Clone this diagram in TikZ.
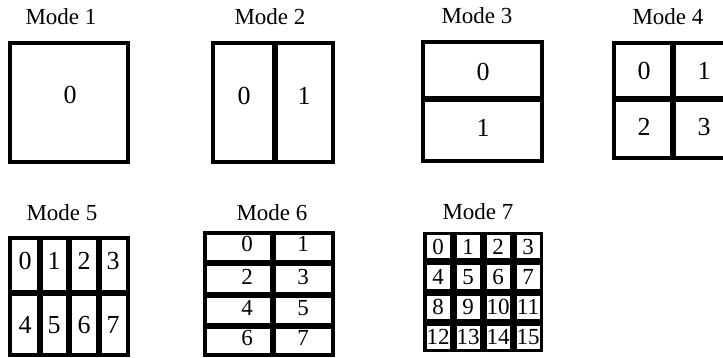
\documentclass[tikz,border=0pt]{standalone}
\usepackage{fontspec}
\setmainfont{Liberation Serif}
\usetikzlibrary{positioning}

\begin{document}
\begin{tikzpicture}[x=1pt, y=-1pt,
  modelabel/.style={font=\fontsize{23}{23}\selectfont, inner sep=0pt},
  digit/.style={font=\fontsize{26}{26}\selectfont, inner sep=0pt},
  smalldigit/.style={font=\fontsize{23}{23}\selectfont, inner sep=0pt},
  frame/.style={draw, line width=3.5pt},
  divider/.style={line width=5.5pt}
]
  \clip (0,0) rectangle (723,358);

  % top row
  \node[modelabel] (mode1) at (61,17) {Mode 1};
  \node[modelabel] (mode2) at (270,17) {Mode 2};
  \node[modelabel] (mode3) at (477,16) {Mode 3};
  \node[modelabel] (mode4) at (668,17) {Mode 4};

  \draw[frame] (10,43) rectangle (128,162);
  \node[digit] (c1-0) at (70,95) {0};

  \draw[frame] (213,43) rectangle (333,162);
  \draw[divider] (275,43) -- (275,162);
  \node[digit] (c2-0) at (244,96) {0};
  \node[digit] (c2-1) at (304,96) {1};

  \draw[frame] (423,42) rectangle (542,161);
  \draw[divider] (423,99) -- (542,99);
  \node[digit] (c3-0) at (483,72) {0};
  \node[digit] (c3-1) at (483,128) {1};

  \draw[frame] (614,43) rectangle (732,158);
  \draw[divider] (673,43) -- (673,158);
  \draw[divider] (614,99) -- (732,99);
  \node[digit] (c4-0) at (644,71) {0};
  \node[digit] (c4-1) at (704,71) {1};
  \node[digit] (c4-2) at (644,127) {2};
  \node[digit] (c4-3) at (704,127) {3};

  % bottom row
  \node[modelabel] (mode5) at (62,213) {Mode 5};
  \node[modelabel] (mode6) at (272,213) {Mode 6};
  \node[modelabel] (mode7) at (478,212) {Mode 7};

  \draw[frame] (10,238) rectangle (128,355);
  \foreach \x in {40,69,99}
    \draw[divider] (\x,238) -- (\x,355);
  \draw[divider] (10,293) -- (128,293);
  \foreach \d/\x in {0/25,1/54,2/84,3/113}
    \node[digit] (c5-\d) at (\x,261) {\d};
  \foreach \d/\x in {4/25,5/54,6/84,7/113}
    \node[digit] (c5-\d) at (\x,325) {\d};

  \draw[frame] (205,233) rectangle (333,355);
  \draw[divider] (273,233) -- (273,355);
  \foreach \y in {263,295,326}
    \draw[divider] (205,\y) -- (333,\y);
  \foreach \a/\b/\y in {0/1/244,2/3/277,4/5/308,6/7/338} {
    \node[smalldigit] (c6-\a) at (247,\y) {\a};
    \node[smalldigit] (c6-\b) at (303,\y) {\b};
  }

  \fill (423,232) rectangle (543,352);
  \foreach \r in {0,...,3}
    \foreach \c in {0,...,3} {
      \pgfmathtruncatemacro\n{4*\r+\c}
      \fill[white] (426.5+30*\c,235.5+30*\r) rectangle +(23,23);
      \node[smalldigit] (c7-\n) at (438+30*\c,247+30*\r) {\n};
    }
\end{tikzpicture}
\end{document}
